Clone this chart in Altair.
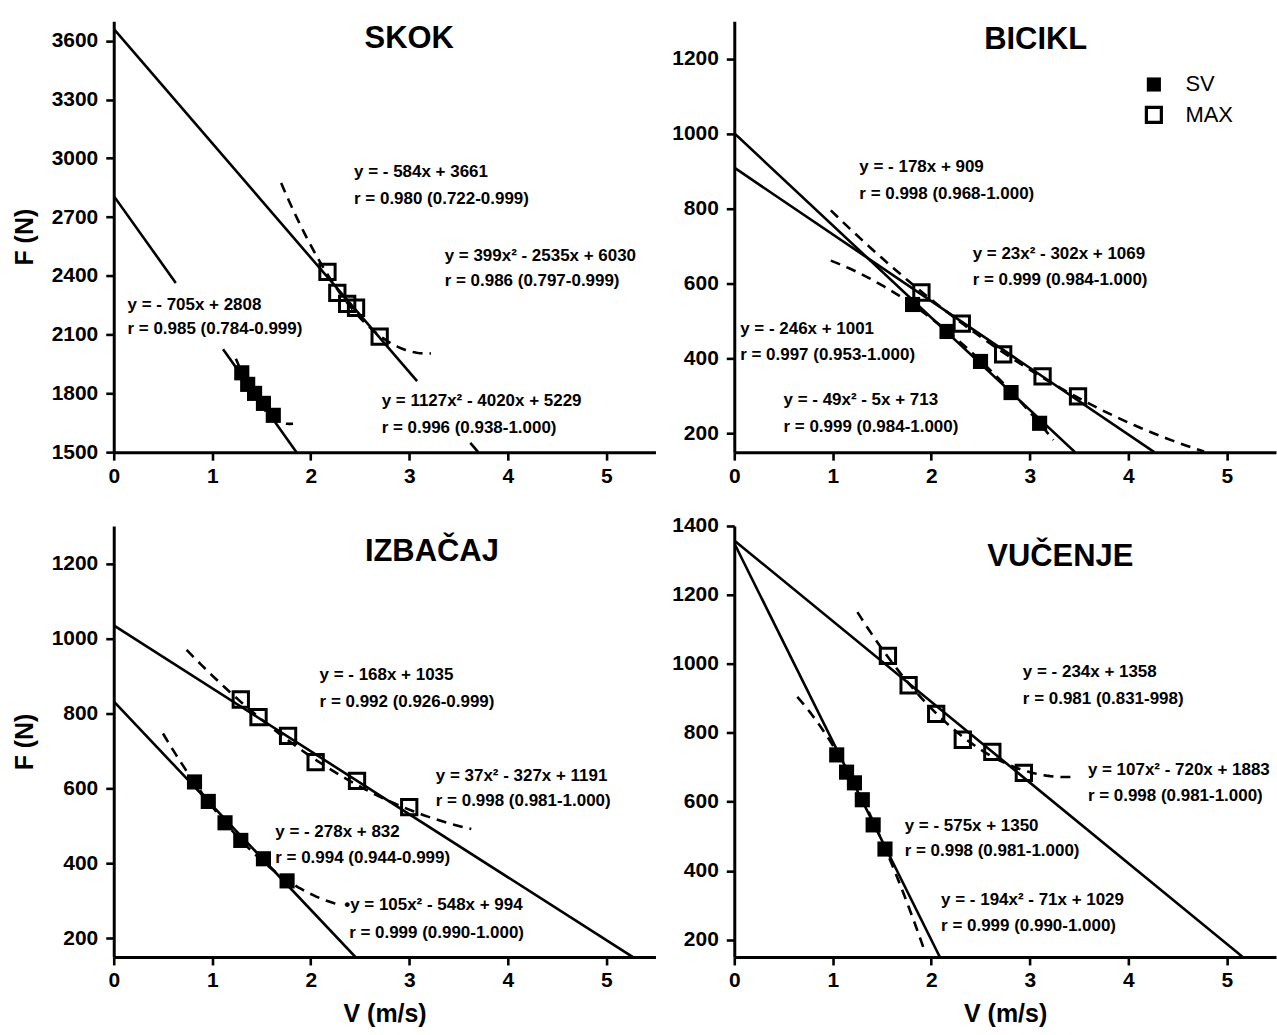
import altair as alt
import pandas as pd
import numpy as np

FONT = "Liberation Sans"

# ---------------- data ----------------
# SKOK
skok_sv_v = [1.30, 1.36, 1.43, 1.52, 1.62]
skok_sv_f = [1905, 1846, 1800, 1749, 1688]
skok_max_v = [2.17, 2.27, 2.37, 2.46, 2.70]
skok_max_f = [2420, 2313, 2257, 2237, 2090]
# BICIKL
bic_sv_v = [1.81, 2.16, 2.50, 2.81, 3.10]
bic_sv_f = [544, 472, 392, 309, 227]
bic_max_v = [1.90, 2.31, 2.73, 3.13, 3.49]
bic_max_f = [576, 493, 411, 352, 299]
# IZBAČAJ
izb_sv_v = [0.82, 0.96, 1.13, 1.29, 1.52, 1.76]
izb_sv_f = [617, 565, 508, 461, 412, 353]
izb_max_v = [1.29, 1.47, 1.77, 2.05, 2.47, 3.00]
izb_max_f = [837, 790, 740, 670, 620, 550]
# VUČENJE
vuc_sv_v = [1.04, 1.14, 1.22, 1.30, 1.41, 1.53]
vuc_sv_f = [736, 686, 655, 606, 533, 463]
vuc_max_v = [1.56, 1.77, 2.05, 2.32, 2.62, 2.94]
vuc_max_f = [1023, 938, 855, 780, 745, 684]

# printed fit equations: linear (slope, intercept), quadratic (a, b, c)
skok_lin = {"SV": (-705, 2808), "MAX": (-584, 3661)}
skok_quad = {"SV": (1127, -4020, 5229), "MAX": (399, -2535, 6030)}
bic_lin = {"SV": (-246, 1001), "MAX": (-178, 909)}
bic_quad = {"SV": (-49, -5, 713), "MAX": (23, -302, 1069)}
izb_lin = {"SV": (-278, 832), "MAX": (-168, 1035)}
izb_quad = {"SV": (105, -548, 994), "MAX": (37, -327, 1191)}
vuc_lin = {"SV": (-575, 1350), "MAX": (-234, 1358)}
vuc_quad = {"SV": (-194, -71, 1029), "MAX": (107, -720, 1883)}

# annotation texts
skok_texts = ["y = - 584x + 3661", "r = 0.980 (0.722-0.999)",
              "y = 399x² - 2535x + 6030", "r = 0.986 (0.797-0.999)",
              "y = - 705x + 2808", "r = 0.985 (0.784-0.999)",
              "y = 1127x² - 4020x + 5229", "r = 0.996 (0.938-1.000)"]
bic_texts = ["y = - 178x + 909", "r = 0.998 (0.968-1.000)",
             "y = 23x² - 302x + 1069", "r = 0.999 (0.984-1.000)",
             "y = - 246x + 1001", "r = 0.997 (0.953-1.000)",
             "y = - 49x² - 5x + 713", "r = 0.999 (0.984-1.000)"]
izb_texts = ["y = - 168x + 1035", "r = 0.992 (0.926-0.999)",
             "y = 37x² - 327x + 1191", "r = 0.998 (0.981-1.000)",
             "y = - 278x + 832", "r = 0.994 (0.944-0.999)",
             "•y = 105x² - 548x + 994", "r = 0.999 (0.990-1.000)"]
vuc_texts = ["y = - 234x + 1358", "r = 0.981 (0.831-998)",
             "y = 107x² - 720x + 1883", "r = 0.998 (0.981-1.000)",
             "y = - 575x + 1350", "r = 0.998 (0.981-1.000)",
             "y = - 194x² - 71x + 1029", "r = 0.999 (0.990-1.000)"]
legend_labels = ["SV", "MAX"]

# ---------------- layout (positions in data units) ----------------
LAYOUT = {
    "SKOK": dict(ydom=[1500, 3700], yticks=list(range(1500, 3601, 300)),
                 title_pos=(3.00, 3608),
                 lin_seg={"SV": [(0, 0.63), (1.11, None)], "MAX": [(0, 3.08), (3.62, None)]},
                 quad_rng={"SV": (1.24, 1.82), "MAX": (1.70, 3.22)},
                 text_pos=[(2.44, 2931), (2.44, 2793), (3.36, 2503), (3.36, 2376),
                           (0.14, 2253), (0.14, 2126), (2.72, 1760), (2.72, 1622)]),
    "BICIKL": dict(ydom=[150, 1300], yticks=list(range(200, 1201, 200)),
                   title_pos=(3.06, 1251),
                   lin_seg={"SV": [(0, None)], "MAX": [(0, None)]},
                   quad_rng={"SV": (0.98, 3.24), "MAX": (0.98, 4.77)},
                   text_pos=[(1.27, 910), (1.27, 838), (2.42, 680), (2.42, 608),
                             (0.06, 479), (0.06, 409), (0.50, 289), (0.50, 218)]),
    "IZBAČAJ": dict(ydom=[150, 1300], yticks=list(range(200, 1201, 200)),
                    title_pos=(3.23, 1230),
                    lin_seg={"SV": [(0, None)], "MAX": [(0, None)]},
                    quad_rng={"SV": (0.50, 2.30), "MAX": (0.74, 3.63)},
                    text_pos=[(2.09, 902), (2.09, 830), (3.27, 634), (3.27, 566),
                              (1.64, 484), (1.64, 413), (2.34, 288), (2.39, 214)]),
    "VUČENJE": dict(ydom=[150, 1400], yticks=list(range(200, 1401, 200)),
                    title_pos=(3.31, 1311),
                    lin_seg={"SV": [(0, None)], "MAX": [(0, None)]},
                    quad_rng={"SV": (0.64, 1.92), "MAX": (1.25, 3.47)},
                    text_pos=[(2.93, 977), (2.93, 899), (3.59, 691), (3.59, 617),
                              (1.73, 530), (1.73, 456), (2.10, 316), (2.10, 239)]),
}
LEGEND_POS = [(4.26, 1131, 4.58), (4.26, 1050, 4.58)]

W, H = 543, 432
LW = 2.6


def panel(name, sv_v, sv_f, max_v, max_f, lin, quad, texts, ytitle, xtitle, legend=False):
    L = LAYOUT[name]
    ymin, ymax = L["ydom"]
    xenc = alt.X("v:Q", scale=alt.Scale(domain=[0, 5.5], nice=False, zero=False),
                 axis=alt.Axis(values=[0, 1, 2, 3, 4, 5], format="d",
                               title="V (m/s)" if xtitle else None))
    yenc = alt.Y("f:Q", scale=alt.Scale(domain=L["ydom"], nice=False, zero=False),
                 axis=alt.Axis(values=L["yticks"], format="d",
                               title="F (N)" if ytitle else None))

    rows = []
    for key, (m, b) in lin.items():
        for i, (s, e) in enumerate(L["lin_seg"][key]):
            if e is None:
                e = (ymin - b) / m
            rows.append({"v": s, "f": m * s + b, "seg": f"{key}{i}"})
            rows.append({"v": e, "f": m * e + b, "seg": f"{key}{i}"})
    lin_df = pd.DataFrame(rows)

    qrows = []
    for key, (a, b, c) in quad.items():
        lo, hi = L["quad_rng"][key]
        for x in np.linspace(lo, hi, 60):
            qrows.append({"v": x, "f": a * x * x + b * x + c, "seg": key})
    quad_df = pd.DataFrame(qrows)

    sv_df = pd.DataFrame({"v": sv_v, "f": sv_f})
    max_df = pd.DataFrame({"v": max_v, "f": max_f})
    txt_df = pd.DataFrame({"v": [p[0] for p in L["text_pos"]],
                           "f": [p[1] for p in L["text_pos"]], "t": texts})
    title_df = pd.DataFrame({"v": [L["title_pos"][0]], "f": [L["title_pos"][1]], "t": [name]})

    layers = [
        alt.Chart(lin_df).mark_line(color="black", strokeWidth=LW, clip=True).encode(
            x=xenc, y=yenc, detail="seg:N", order="v:Q"),
        alt.Chart(quad_df).mark_line(color="black", strokeWidth=LW, strokeDash=[10, 7], clip=True).encode(
            x=xenc, y=yenc, detail="seg:N", order="v:Q"),
        alt.Chart(sv_df).mark_point(shape="square", filled=True, size=230, color="black", opacity=1).encode(
            x=xenc, y=yenc),
        alt.Chart(max_df).mark_point(shape="square", filled=False, size=235, color="black",
                                     strokeWidth=3, opacity=1).encode(x=xenc, y=yenc),
        alt.Chart(txt_df).mark_text(align="left", baseline="middle", fontSize=17, fontWeight="bold",
                                    font=FONT, color="black").encode(x=xenc, y=yenc, text="t:N"),
        alt.Chart(title_df).mark_text(align="center", baseline="middle", fontSize=31, fontWeight="bold",
                                      font=FONT, color="black").encode(x=xenc, y=yenc, text="t:N"),
    ]
    if legend:
        lg = pd.DataFrame({"v": [p[0] for p in LEGEND_POS], "f": [p[1] for p in LEGEND_POS],
                           "tv": [p[2] for p in LEGEND_POS], "t": legend_labels})
        layers += [
            alt.Chart(lg.iloc[[0]]).mark_point(shape="square", filled=True, size=200, color="black",
                                               opacity=1).encode(x=xenc, y=yenc),
            alt.Chart(lg.iloc[[1]]).mark_point(shape="square", filled=False, size=225, color="black",
                                               strokeWidth=3.2, opacity=1).encode(x=xenc, y=yenc),
            alt.Chart(lg).mark_text(align="left", baseline="middle", fontSize=22, fontWeight="normal",
                                    font=FONT, color="black").encode(
                x=alt.X("tv:Q", scale=alt.Scale(domain=[0, 5.5], nice=False, zero=False)),
                y=yenc, text="t:N"),
        ]
    return alt.layer(*layers).properties(width=W, height=H)


p1 = panel("SKOK", skok_sv_v, skok_sv_f, skok_max_v, skok_max_f, skok_lin, skok_quad, skok_texts, True, False)
p2 = panel("BICIKL", bic_sv_v, bic_sv_f, bic_max_v, bic_max_f, bic_lin, bic_quad, bic_texts, False, False, legend=True)
p3 = panel("IZBAČAJ", izb_sv_v, izb_sv_f, izb_max_v, izb_max_f, izb_lin, izb_quad, izb_texts, True, True)
p4 = panel("VUČENJE", vuc_sv_v, vuc_sv_f, vuc_max_v, vuc_max_f, vuc_lin, vuc_quad, vuc_texts, False, True)

chart = alt.vconcat(
    alt.hconcat(p1, p2, spacing=14),
    alt.hconcat(p3, p4, spacing=14),
    spacing=27,
).properties(
    padding={"left": 11, "top": 19, "right": 0, "bottom": 0}
).configure(font=FONT).configure_view(stroke="transparent").configure_axis(
    grid=False, domainColor="black", domainWidth=3, tickColor="black", tickWidth=2.6,
    tickSize=8, labelFontSize=21, labelFontWeight="bold", labelColor="black", labelFont=FONT,
    titleFontSize=25, titleFontWeight="bold", titleColor="black", titleFont=FONT,
    labelFlush=False, labelOverlap=False,
).configure_axisX(labelPadding=5, titlePadding=11).configure_axisY(labelPadding=8, titlePadding=14)

chart.save("out.html", embed_options={"renderer": "svg", "actions": False})
